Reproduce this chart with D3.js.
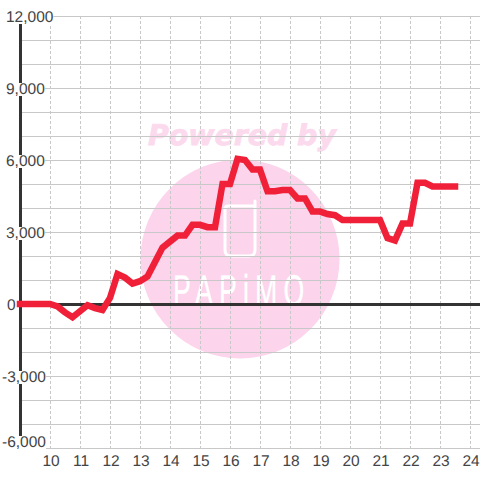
<!DOCTYPE html>
<html>
<head>
<meta charset="utf-8">
<script src="https://cdn.jsdelivr.net/npm/d3@7"></script>
<style>
  html, body { margin: 0; padding: 0; background: #fff; }
  text { font-family: "Liberation Sans", Arial, sans-serif; text-rendering: geometricPrecision; }
</style>
</head>
<body>
<div id="chart"></div>
<script>
// hours of the day (15 min steps) and the value at each of them
var hours = [9, 9.25, 9.5, 9.75, 10, 10.25, 10.5, 10.75, 11, 11.25, 11.5, 11.75,
  12, 12.25, 12.5, 12.75, 13, 13.25, 13.5, 13.75, 14, 14.25, 14.5, 14.75,
  15, 15.25, 15.5, 15.75, 16, 16.25, 16.5, 16.75, 17, 17.25, 17.5, 17.75,
  18, 18.25, 18.5, 18.75, 19, 19.25, 19.5, 19.75, 20, 20.25, 20.5, 20.75,
  21, 21.25, 21.5, 21.75, 22, 22.25, 22.5, 22.75, 23, 23.25, 23.5]
var values = [0, 0, 0, 0, 0, -100, -350, -550, -300, -50, -170, -250,
  250, 1250, 1100, 850, 950, 1150, 1750, 2350, 2600, 2850, 2850, 3300,
  3300, 3200, 3200, 5000, 5000, 6050, 6000, 5600, 5600, 4700, 4700, 4750,
  4750, 4400, 4400, 3850, 3850, 3750, 3700, 3500, 3500, 3500, 3500, 3500,
  3500, 2750, 2650, 3350, 3350, 5050, 5050, 4900, 4900, 4900, 4900]
var xTicks = [10, 11, 12, 13, 14, 15, 16, 17, 18, 19, 20, 21, 22, 23, 24]
var yTicks = [12000, 9000, 6000, 3000, 0, -3000, -6000]
var yGrid = d3.range(-6000, 12001, 1000)

var width = 480
var height = 480

var x = d3.scaleLinear().domain([9, 24]).range([20, 470])
var y = d3.scaleLinear().domain([-6000, 12000]).range([448, 16])

var svg = d3.select("#chart")
  .append("svg")
    .attr("width", width)
    .attr("height", height)
    .style("display", "block")

// watermark
var mark = svg.append("g")

mark.append("circle")
  .attr("cx", 240)
  .attr("cy", 259)
  .attr("r", 99.5)
  .style("fill", "#fcd4ec")

mark.append("text")
  .attr("x", 148)
  .attr("y", 144.5)
  .attr("textLength", 188)
  .style("font-family", "'DejaVu Sans'")
  .style("font-weight", "bold")
  .style("font-style", "italic")
  .style("font-size", "28.5px")
  .style("fill", "#fcdaee")
  .style("stroke", "#fcdaee")
  .style("stroke-width", 0.8)
  .text("Powered by")

mark.append("path")
  .attr("d", "M255 201V250Q255 256 249 256H231Q225 256 225 250V209Q225 206 228 206H255")
  .style("fill", "none")
  .style("stroke", "#fff")
  .style("stroke-width", 3)
  .style("stroke-linecap", "round")

mark.append("text")
  .attr("transform", "translate(173,305) scale(0.62,1)")
  .style("font-size", "43px")
  .style("letter-spacing", "10px")
  .style("fill", "#fff")
  .style("stroke", "#fff")
  .style("stroke-width", 0.4)
  .text("PAPiMO")

// grid
svg.append("g")
  .selectAll("line")
  .data(yGrid)
  .enter().append("line")
  .attr("x1", x(9))
  .attr("x2", width)
  .attr("y1", d => y(d) + 0.5)
  .attr("y2", d => y(d) + 0.5)
  .style("stroke", "#c8c8c8")
  .style("stroke-width", 1.2)

svg.append("g")
  .selectAll("line")
  .data(xTicks)
  .enter().append("line")
  .attr("x1", d => x(d) + 0.5)
  .attr("x2", d => x(d) + 0.5)
  .attr("y1", y(12000))
  .attr("y2", y(-6000))
  .style("stroke", "#c8c8c8")
  .style("stroke-dasharray", "3,2")

// axis lines
svg.append("line")
  .attr("x1", x(9) + 0.5)
  .attr("x2", x(9) + 0.5)
  .attr("y1", y(12000))
  .attr("y2", y(-6000))
  .style("stroke", "#333")
  .style("stroke-width", 3)

svg.append("line")
  .attr("x1", x(9))
  .attr("x2", width)
  .attr("y1", y(0) + 0.5)
  .attr("y2", y(0) + 0.5)
  .style("stroke", "#333")
  .style("stroke-width", 3)

// labels sit on a white box that cuts the axis and grid behind them
var baseline = d => d == -6000 ? 447 : y(d) + 6
var labelX = d => d < 0 ? 2 : d == 0 ? 7 : 6

var yLabels = svg.append("g")
  .selectAll("g")
  .data(yTicks)
  .enter().append("g")

var boxes = yLabels.append("rect")
  .attr("x", 0)
  .attr("y", d => baseline(d) - 11)
  .attr("height", 13)
  .style("fill", "#fff")

yLabels.append("text")
  .attr("x", labelX)
  .attr("y", baseline)
  .style("font-size", "15.5px")
  .style("fill", "#444")
  .text(d => d3.format(",")(d).replace("\u2212", "-"))
  .each(function(d, i) {
    boxes.filter((b, j) => j == i)
      .attr("width", labelX(d) + this.getComputedTextLength())
  })

svg.append("g")
  .selectAll("text")
  .data(xTicks)
  .enter().append("text")
  .attr("x", d => x(d) + 1)
  .attr("y", 466)
  .attr("text-anchor", "middle")
  .style("font-size", "15.5px")
  .style("fill", "#444")
  .text(d => d)

// the series
var line = d3.line()
  .x((d, i) => x(hours[i]))
  .y(d => y(d))

svg.append("path")
  .attr("d", line(values))
  .style("fill", "none")
  .style("stroke", "#f02038")
  .style("stroke-width", 6.5)
  .style("stroke-linecap", "square")
  .style("stroke-linejoin", "miter")
</script>
</body>
</html>
